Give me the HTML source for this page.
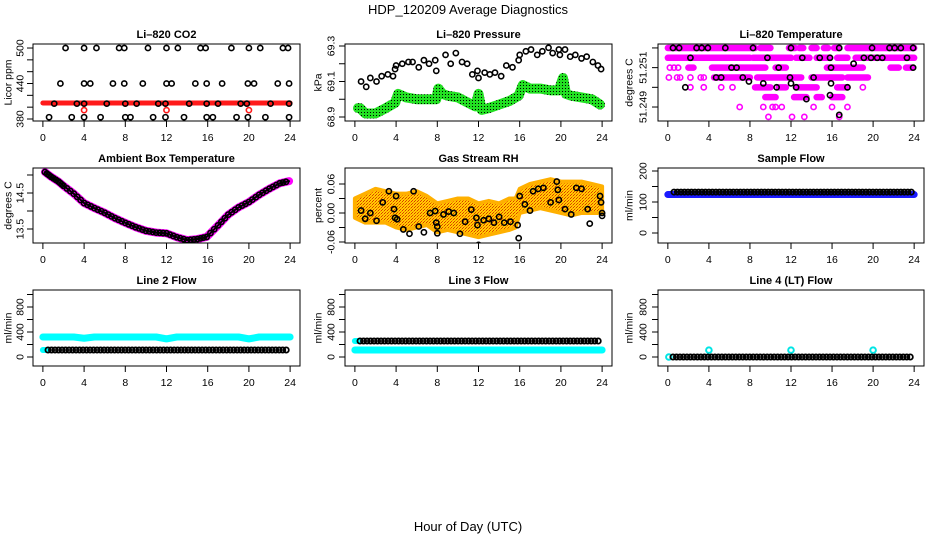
<!DOCTYPE html>
<html><head><meta charset="utf-8"><style>
html,body{margin:0;padding:0;background:#fff}
svg{display:block;font-family:"Liberation Sans",Arial,sans-serif}
</style></head><body>
<svg id="chart" width="936" height="540" viewBox="0 0 936 540" xmlns="http://www.w3.org/2000/svg">
<defs>
<pattern id="greenPat" width="3" height="3" patternUnits="userSpaceOnUse"><rect width="3" height="3" fill="#22e022"/><rect x="1" y="1" width="1" height="1" fill="#000"/></pattern>
<pattern id="rhPat" width="3" height="3" patternUnits="userSpaceOnUse"><rect width="3" height="3" fill="#ffd000"/><rect x="0" y="0" width="1" height="1" fill="#e03000"/><rect x="2" y="1" width="1" height="1" fill="#ff8000"/><rect x="1" y="2" width="1" height="1" fill="#e04000"/></pattern>
</defs>
<text x="468" y="14" text-anchor="middle" font-size="13">HDP_120209  Average Diagnostics</text>
<text x="468" y="531" text-anchor="middle" font-size="13">Hour of Day (UTC)</text>
</svg>
<script>
// ---- data ----
const xTicks=[0,4,8,12,16,20,24];
// CO2
const co2RedHours=[0,24];
const co2RedVals=[407,407];
const co2RedDotHours=[4,12,20];
const co2RedDotVals=[395,395,395];
const co2BlackHours=[2.2,4,5.2,7.4,7.9,10.2,12,13.1,15.3,15.8,18.3,20,21.1,23.3,23.8, 1.7,4,4.6,6.8,7.9,9.7,12,12.5,14.8,15.9,17.4,19.9,20.5,22.8,23.9, 1.1,3.3,4,6.2,8,9.1,11.2,11.9,14.2,15.9,17,19.2,19.8,22.1,23.9, 0.6,2.8,4,5.6,8,8.5,10.7,11.9,13.7,15.9,16.5,18.8,19.9,21.6,23.9];
const co2BlackVals=[500,500,500,500,500,500,500,500,500,500,500,500,500,500,500, 440,440,440,440,440,440,440,440,440,440,440,440,440,440,440, 406,406,406,406,406,406,406,406,406,406,406,406,406,406,406, 383,383,383,383,383,383,383,383,383,383,383,383,383,383,383];
// Pressure
const presGreenHours=[0.3,0.5,1,2,3,3.9,4.2,5,6,7,7.9,8.1,8.5,9,10,11,11.7,12,12.3,13,14,15,15.9,16.3,17,18,19,19.8,20.2,20.5,21,22,23,23.8];
const presGreenVals=[68.95,68.95,68.92,68.92,68.95,68.98,69.03,69.01,69.0,69.0,69.0,69.06,69.03,69.02,69.01,68.98,68.96,69.03,68.94,68.95,68.97,68.99,69.02,69.08,69.06,69.06,69.05,69.05,69.12,69.03,69.02,69.01,69.0,68.97];
const presBlackHours=[0.6,1.1,1.5,2.1,2.6,3.2,3.7,3.9,4,4.6,5.2,5.6,6.2,6.7,7.2,7.8,7.9,8.8,9.3,9.8,10.4,10.9,11.4,11.9,12,12.6,13.1,13.6,14.2,14.7,15.3,15.9,16,16.6,17.1,17.7,18.2,18.8,19.2,19.8,19.9,20.4,20.9,21.4,22,22.5,23.1,23.6,23.9];
const presBlackVals=[69.1,69.07,69.12,69.1,69.13,69.14,69.13,69.17,69.19,69.2,69.21,69.21,69.18,69.22,69.2,69.22,69.16,69.25,69.2,69.26,69.21,69.2,69.14,69.16,69.12,69.15,69.14,69.15,69.13,69.19,69.18,69.22,69.25,69.27,69.28,69.25,69.27,69.29,69.26,69.28,69.25,69.28,69.24,69.25,69.23,69.24,69.21,69.19,69.17];
// Li-820 temperature (magenta runs and isolated points)
const tempSegStart=[0,9,11.8,12.8,14,15.2,16.2,17.5, 0,8.3,12.5,14.5,16.5,18.3, 2,4.3,10.5,15.5,21.7,23.2, 4.5,8.7,14,17.5, 8.5,10.8,12.5,16.5, 9.5,12.3,14.5,16];
const tempSegEnd=[8.5,10,12.4,13.2,14.5,15.6,16.6,24, 8,12,13.8,15.8,17.5,24, 2.5,9.5,11.5,19,22.5,23.8, 8,13,17,19.5, 10,11.5,14.5,17.5, 10.5,13.5,15,17];
const tempSegVals=[51.252,51.252,51.252,51.252,51.252,51.252,51.252,51.252, 51.2515,51.2515,51.2515,51.2515,51.2515,51.2515, 51.251,51.251,51.251,51.251,51.251,51.251, 51.2505,51.2505,51.2505,51.2505, 51.25,51.25,51.25,51.25, 51.2495,51.2495,51.2495,51.2495];
const tempMagHours=[0.2,0.6,1.0,0.1,0.9,1.2,2.2,3.2,3.5,2.2,3.5,5.2,6.3,19,7,9.3,10.2,11.1,14.2,16,17.5,9.8,12.1,13.3,16.7,10.5];
const tempMagVals=[51.251,51.251,51.251,51.2505,51.2505,51.2505,51.2505,51.2505,51.2505,51.25,51.25,51.25,51.25,51.25,51.249,51.249,51.249,51.249,51.249,51.249,51.249,51.2485,51.2485,51.2485,51.2485,51.249];
const tempBlackHours=[0.5,1.1,2.8,3.3,3.9,5.6,8.3,12,16.7,19.9,21.6,22.1,22.7,23.9, 2.2,9.7,13.1,14.8,15.8,19.1,19.8,20.4,20.9,23.3, 6.2,6.7,10.8,15.9,23.9,18.1, 4.7,5.2,7.3,7.9,11.9,14.2,12, 1.7,9.3,10.6,12.5,15.9,17.5, 13.5,15.8, 16.7];
const tempBlackVals=[51.252,51.252,51.252,51.252,51.252,51.252,51.252,51.252,51.252,51.252,51.252,51.252,51.252,51.252, 51.2515,51.2515,51.2515,51.2515,51.2515,51.2515,51.2515,51.2515,51.2515,51.2515, 51.251,51.251,51.251,51.251,51.251,51.2512, 51.2505,51.2505,51.2505,51.2503,51.2505,51.2505,51.2502, 51.25,51.2502,51.25,51.25,51.2502,51.25, 51.2494,51.2496, 51.2486];
// Ambient box temperature
const ambHours=[0.2,0.8,1.5,2,3,4,5,6,7,8,9,10,11,12,13,14,15,15.9,17,18,19,20,21,22,23,23.9];
const ambVals=[15.08,14.95,14.82,14.7,14.48,14.22,14.08,13.95,13.8,13.67,13.55,13.45,13.4,13.38,13.27,13.19,13.22,13.28,13.6,13.9,14.1,14.25,14.45,14.62,14.77,14.83];
// Gas stream RH (cloud envelope + black points)
const rhEnvHours=[0,1,2,3,4,5,6,7,8,9,10,11,12,13,14,15,15.6,16,17,18,19,20,21,22,23,24];
const rhEnvLow=[-0.01,-0.02,-0.02,-0.02,-0.03,-0.035,-0.03,-0.025,-0.04,-0.035,-0.04,-0.045,-0.05,-0.045,-0.04,-0.035,-0.03,0.0,0.005,0.01,0.005,0.0,-0.005,0.0,0.0,0.0];
const rhEnvHigh=[0.03,0.04,0.05,0.045,0.04,0.04,0.045,0.035,0.02,0.025,0.03,0.03,0.02,0.025,0.02,0.03,0.03,0.05,0.06,0.065,0.07,0.065,0.065,0.065,0.06,0.055];
const rhBlackHours=[0.6,1,1.5,2.1,2.7,3.3,3.8,3.9,4,4.1,4.7,5.3,5.7,6.2,6.7,7.3,7.8,7.9,8,8,8.6,9.1,9.6,10.2,10.7,11.3,11.8,11.9,12,12.5,13,13.5,14,14.5,15.1,15.8,15.9,16,16.5,17,17.3,17.8,18.3,19,19.6,19.7,19.8,20.4,21,21.5,22,22.6,22.8,23.8,23.9,24,24];
const rhBlackVals=[0.005,-0.012,0.0,-0.016,0.022,0.045,0.008,-0.01,0.035,-0.013,-0.034,-0.043,0.045,-0.028,-0.04,0.0,0.004,-0.02,-0.028,-0.042,-0.003,0.003,0.0,-0.043,-0.018,0.007,-0.01,-0.025,-0.066,-0.015,-0.012,-0.02,-0.008,-0.02,-0.018,-0.025,-0.052,0.035,0.018,0.005,0.045,0.05,0.052,0.022,0.065,0.048,0.027,0.008,-0.003,0.052,0.05,0.008,-0.022,0.035,0.022,0.0,-0.006];
// flows (values per hour 0..24)
const sampleBlue=[124,124,124,124,124,124,124,124,124,124,124,124,124,124,124,124,124,124,124,124,124,124,124,124,124];
const sampleBlack=[132,132,132,132,132,132,132,132,132,132,132,132,132,132,132,132,132,132,132,132,132,132,132,132,132];
const line2Cyan=[320,320,320,320,300,320,320,320,320,320,320,320,290,320,320,320,320,320,320,320,290,320,320,320,320];
const line2Black=[112,112,112,112,112,112,112,112,112,112,112,112,112,112,112,112,112,112,112,112,112,112,112,112,112];
const line3Cyan=[112,112,112,112,112,112,112,112,112,112,112,112,112,112,112,112,112,112,112,112,112,112,112,112,112];
const line3Black=[256,256,256,256,256,256,256,256,256,256,256,256,256,256,256,256,256,256,256,256,256,256,256,256,256];
const line4Black=[0,0,0,0,0,0,0,0,0,0,0,0,0,0,0,0,0,0,0,0,0,0,0,0,0];
const line4CyanHours=[0.1,4,12,20];
const line4CyanVals=[0,110,110,110];

// ---- drawing ----
const NS='http://www.w3.org/2000/svg';
const svg=document.getElementById('chart');
function mk(tag,attrs,parent){const e=document.createElementNS(NS,tag);for(const k in attrs)e.setAttribute(k,attrs[k]);(parent||svg).appendChild(e);return e;}
const cols=[{x0:33,x1:300,tl:20,yl:8},{x0:345,x1:612,tl:331,yl:318},{x0:658,x1:924,tl:643,yl:629}];
const rows=[{y0:44,y1:121},{y0:168,y1:243},{y0:290,y1:366}];
function panel(name,title,ylab,c,r,ymin,ymax,yticks,ylabels){
  const C=cols[c],R=rows[r];
  const g=mk('g',{});
  
  
  const sx=h=>C.x0+(h+0.96)/25.92*(C.x1-C.x0);
  const sy=v=>R.y1-(v-ymin)/(ymax-ymin)*(R.y1-R.y0);
  const clip=mk('clipPath',{id:'clip-'+name},g);
  mk('rect',{x:C.x0,y:R.y0,width:C.x1-C.x0,height:R.y1-R.y0},clip);
  const data=mk('g',{'clip-path':'url(#clip-'+name+')'},g);
  
  
  const box=mk('rect',{x:C.x0,y:R.y0,width:C.x1-C.x0,height:R.y1-R.y0,fill:'none',stroke:'#000','stroke-width':1},g);
  
  
  const t=mk('text',{x:(C.x0+C.x1)/2,y:R.y0-6,'text-anchor':'middle','font-size':11,'font-weight':'bold'},g);
  t.textContent=title;
  
  
  const xa=mk('g',{},g);
  
  
  mk('line',{x1:sx(0),x2:sx(24),y1:R.y1,y2:R.y1,stroke:'#000'},xa);
  xTicks.forEach(h=>{mk('line',{x1:sx(h),x2:sx(h),y1:R.y1,y2:R.y1+6,stroke:'#000'},xa);
    const l=mk('text',{x:sx(h),y:R.y1+20,'text-anchor':'middle','font-size':10.5},xa);l.textContent=h;});
  const ya=mk('g',{},g);
  
  
  yticks.forEach(v=>{mk('line',{x1:C.x0-6,x2:C.x0,y1:sy(v),y2:sy(v),stroke:'#000'},ya);});
  ylabels.forEach(v=>{const y=sy(parseFloat(v));const l=mk('text',{x:C.tl,y:y,'text-anchor':'middle','font-size':10.5,transform:`rotate(-90 ${C.tl} ${y})`,dy:'0.35em'},ya);l.textContent=v;});
  const yt=mk('text',{x:C.yl,y:(R.y0+R.y1)/2,'text-anchor':'middle','font-size':10.5,transform:`rotate(-90 ${C.yl} ${(R.y0+R.y1)/2})`,dy:'0.35em'},g);
  yt.textContent=ylab;
  
  
  return {sx,sy,g:data};
}
function pts(P,hours,vals,color,name,r,sw){
  const g=mk('g',{},P.g);
  
  
  hours.forEach((h,i)=>{mk('circle',{cx:P.sx(h),cy:P.sy(vals[i]),r:r||2.6,fill:'none',stroke:color,'stroke-width':sw||1.6},g);});
}
function band(P,hours,vals,color,w,name){
  const p=mk('polyline',{points:hours.map((h,i)=>P.sx(h)+','+P.sy(vals[i])).join(' '),fill:'none',stroke:color,'stroke-width':w,'stroke-linecap':'round','stroke-linejoin':'round'},P.g);
  
  
}
const hourIdx=[];for(let i=0;i<=24;i++)hourIdx.push(i);
function flowRow(P,perHour,color,name,start,filled){
  const hs=[],vs=[];
  for(let t=start;t<=23.95;t+=0.34){hs.push(t);vs.push(perHour[Math.round(t)]);}
  pts(P,hs,vs,color,name,2.6,1.8);
}
// Panel 1
let P=panel('co2-panel','Li\u2013820 CO2','Licor ppm',0,0,376.6,506.8,[380,400,420,440,460,480,500],['380','440','500']);
band(P,co2RedHours,co2RedVals,'#ff1a1a',5,'co2-red-band');
pts(P,co2RedDotHours,co2RedDotVals,'#ff1a1a','co2-red-points');
pts(P,co2BlackHours,co2BlackVals,'#000','co2-black-points');
// Panel 2
P=panel('pressure-panel','Li\u2013820 Pressure','kPa',1,0,68.8775,69.3113,[68.9,69.0,69.1,69.2,69.3],['68.9','69.1','69.3']);
band(P,presGreenHours,presGreenVals,'url(#greenPat)',10,'pressure-green-band');
pts(P,presBlackHours,presBlackVals,'#000','pressure-black-points');
// Panel 3
P=panel('temp-panel','Li\u2013820 Temperature','degrees C',2,0,51.24829,51.2522,[51.249,51.25,51.251,51.252],['51.249','51.251']);
(function(){const g=mk('g',{},P.g);


tempSegStart.forEach((s,i)=>{mk('line',{x1:P.sx(s),x2:P.sx(tempSegEnd[i]),y1:P.sy(tempSegVals[i]),y2:P.sy(tempSegVals[i]),stroke:'#ff00ff','stroke-width':6.5,'stroke-linecap':'round'},g);});})();
pts(P,tempMagHours,tempMagVals,'#ff00ff','temp-magenta-points');
pts(P,tempBlackHours,tempBlackVals,'#000','temp-black-points');
// Panel 4
P=panel('ambient-panel','Ambient Box Temperature','degrees C',0,1,13.111,15.194,[13.5,14,14.5,15],['13.5','14.5']);
band(P,ambHours,ambVals,'#ff00ff',8,'ambient-magenta-band');
band(P,ambHours,ambVals,'#000',2,'ambient-black-line');
(function(){const hs=[],vs=[];for(let i=0;i<ambHours.length-1;i++){for(let k=0;k<3;k++){const f=k/3;hs.push(ambHours[i]+(ambHours[i+1]-ambHours[i])*f);vs.push(ambVals[i]+(ambVals[i+1]-ambVals[i])*f);}}pts(P,hs,vs,'#000','ambient-black-points',2.6,1.6);})();
// Panel 5
P=panel('rh-panel','Gas Stream RH','percent',1,1,-0.0621,0.0931,[-0.06,-0.03,0,0.03,0.06],['-0.06','0.00','0.06']);
(function(){const up=rhEnvHours.map((h,i)=>P.sx(h)+','+P.sy(rhEnvHigh[i]));const lo=rhEnvHours.map((h,i)=>P.sx(h)+','+P.sy(rhEnvLow[i])).reverse();
const p=mk('polygon',{points:up.concat(lo).join(' '),fill:'url(#rhPat)',stroke:'#ffb000','stroke-width':4,'stroke-linejoin':'round'},P.g);

})();
pts(P,rhBlackHours,rhBlackVals,'#000','rh-black-points');
// Panel 6
P=panel('sample-flow-panel','Sample Flow','ml/min',2,1,-32.3,209.7,[0,50,100,150,200],['0','100','200']);
band(P,hourIdx,sampleBlue,'#1a1aff',7,'sample-blue-band');
flowRow(P,sampleBlack,'#000','sample-black-points',0.6);
// Panel 7
P=panel('line2-panel','Line 2 Flow','ml/min',0,2,-144,1072,[0,200,400,600,800,1000],['0','400','800']);
band(P,hourIdx,line2Cyan,'#00ffff',7,'line2-cyan-band');
band(P,[0,0.5],[line2Black[0],line2Black[0]],'#00ffff',6,'line2-cyan-start');
flowRow(P,line2Black,'#000','line2-black-points',0.5);
// Panel 8
P=panel('line3-panel','Line 3 Flow','ml/min',1,2,-144,1072,[0,200,400,600,800,1000],['0','400','800']);
band(P,hourIdx,line3Cyan,'#00ffff',7,'line3-cyan-band');
band(P,[0,0.3],[line3Black[0],line3Black[0]],'#00ffff',6,'line3-cyan-start');
flowRow(P,line3Black,'#000','line3-black-points',0.5);
// Panel 9
P=panel('line4-panel','Line 4 (LT) Flow','ml/min',2,2,-144,1072,[0,200,400,600,800,1000],['0','400','800']);
pts(P,line4CyanHours,line4CyanVals,'#00e5e5','line4-cyan-points',2.8,2);
flowRow(P,line4Black,'#000','line4-black-points',0.5);
</script>
</body></html>
